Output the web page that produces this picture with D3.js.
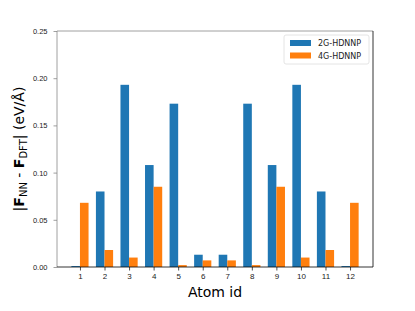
<!DOCTYPE html>
<html>
<head>
<meta charset="utf-8">
<script src="https://cdn.jsdelivr.net/npm/d3@7"></script>
<style>
  body { margin: 0; background: #fff; }
  svg { display: block; font-family: "DejaVu Sans", sans-serif; }
</style>
</head>
<body>
<div id="chart"></div>
<script>
// data
var atomIds = [1, 2, 3, 4, 5, 6, 7, 8, 9, 10, 11, 12];
var err2G = [0.001, 0.080, 0.193, 0.108, 0.173, 0.013, 0.013, 0.173, 0.108, 0.193, 0.080, 0.001];
var err4G = [0.068, 0.018, 0.010, 0.085, 0.002, 0.007, 0.007, 0.002, 0.085, 0.010, 0.018, 0.068];
var yTicks = [0.00, 0.05, 0.10, 0.15, 0.20, 0.25];
var seriesNames = ["2G-HDNNP", "4G-HDNNP"];
var seriesColors = ["#1f77b4", "#ff7f0e"];

var W = 415, H = 311;
var mLeft = 57, mRight = 373, mTop = 31, mBottom = 267;
var barW = 0.35;

var svg = d3.select("#chart").append("svg")
    .attr("width", W)
    .attr("height", H);

// x is a linear scale in "atom id" units, like matplotlib with auto margins
var x = d3.scaleLinear()
    .domain([0.065, 12.935])
    .range([mLeft, mRight]);

var y = d3.scaleLinear()
    .domain([0, 0.25])
    .range([mBottom, mTop]);

// bars
var series = [err2G, err4G];
series.forEach(function (vals, s) {
    var off = s === 0 ? -barW : 0;
    svg.append("g").selectAll("rect")
        .data(vals)
        .enter().append("rect")
        .attr("x", function (d, i) { return x(atomIds[i] + off); })
        .attr("width", x(barW) - x(0))
        .attr("y", function (d) { return y(d); })
        .attr("height", function (d) { return y(0) - y(d); })
        .attr("fill", seriesColors[s]);
});

// axes
var xAxis = d3.axisBottom(x).tickValues(atomIds).tickSize(3.5).tickPadding(3).tickFormat(d3.format("d"));
var yAxis = d3.axisLeft(y).tickValues(yTicks).tickSize(3.5).tickPadding(6).tickFormat(d3.format(".2f"));

var gx = svg.append("g").attr("transform", "translate(0," + mBottom + ")").call(xAxis);
var gy = svg.append("g").attr("transform", "translate(" + mLeft + ",0)").call(yAxis);
gx.select(".domain").remove();
gy.select(".domain").remove();
gx.selectAll("text").attr("font-size", 8).attr("fill", "#222");
gy.selectAll("text").attr("font-size", 7.5).attr("fill", "#222");
gx.selectAll("line").attr("stroke", "#222").attr("stroke-width", 0.8);
gy.selectAll("line").attr("stroke", "#888").attr("stroke-width", 0.8);

// spines (left/top look grey in the original, right/bottom black)
svg.append("line").attr("x1", mLeft).attr("x2", mLeft).attr("y1", mTop).attr("y2", mBottom)
    .attr("stroke", "#888").attr("stroke-width", 0.8);
svg.append("line").attr("x1", mLeft).attr("x2", mRight).attr("y1", mTop).attr("y2", mTop)
    .attr("stroke", "#888").attr("stroke-width", 0.8);
svg.append("line").attr("x1", mRight).attr("x2", mRight).attr("y1", mTop).attr("y2", mBottom)
    .attr("stroke", "#000").attr("stroke-width", 0.8);
svg.append("line").attr("x1", mLeft).attr("x2", mRight).attr("y1", mBottom).attr("y2", mBottom)
    .attr("stroke", "#000").attr("stroke-width", 0.8);

// axis titles
svg.append("text")
    .attr("x", (mLeft + mRight) / 2)
    .attr("y", 297)
    .attr("text-anchor", "middle")
    .attr("font-size", 14)
    .text("Atom id");

var yl = svg.append("text")
    .attr("transform", "translate(24," + ((mTop + mBottom) / 2) + ") rotate(-90)")
    .attr("text-anchor", "middle")
    .attr("font-size", 14);
yl.append("tspan").text("|");
yl.append("tspan").attr("font-weight", "bold").text("F");
yl.append("tspan").attr("font-size", 10).attr("dy", 3).text("NN");
yl.append("tspan").attr("dy", -3).text(" - ");
yl.append("tspan").attr("font-weight", "bold").text("F");
yl.append("tspan").attr("font-size", 10).attr("dy", 3).text("DFT");
yl.append("tspan").attr("dy", -3).text("| (eV/Å)");

// legend
var lg = svg.append("g").attr("transform", "translate(284,35)");
lg.append("rect").attr("width", 85).attr("height", 29).attr("rx", 2)
    .attr("fill", "#fff").attr("fill-opacity", 0.8)
    .attr("stroke", "#ddd").attr("stroke-width", 0.8);
seriesNames.forEach(function (name, i) {
    lg.append("rect").attr("x", 6).attr("y", 5 + i * 12.5).attr("width", 21).attr("height", 6)
        .attr("fill", seriesColors[i]);
    lg.append("text").attr("x", 34).attr("y", 11 + i * 12.5)
        .attr("font-size", 8).attr("fill", "#222").text(name);
});
</script>
</body>
</html>
